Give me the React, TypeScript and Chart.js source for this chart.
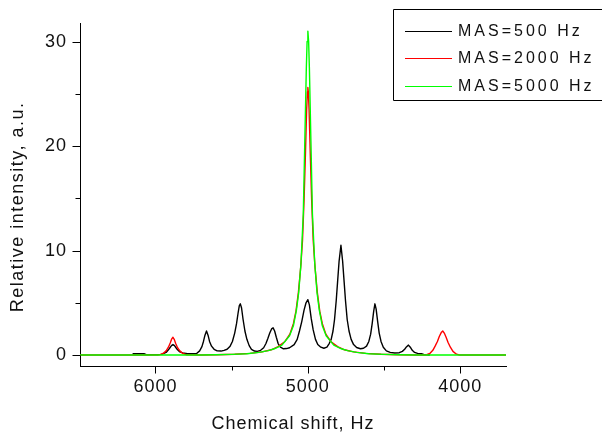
import React, { useEffect, useRef } from "react";
import { Chart, registerables } from "chart.js";

Chart.register(...registerables);

// MAS = 500 Hz: centre band with a comb of spinning sidebands
const shift500 = [
  6150, 6075, 6060, 5960, 5930, 5915, 5905, 5895, 5885, 5875, 5865, 5855, 5840, 5820, 5800, 5790,
  5730, 5710, 5695, 5685, 5675, 5665, 5655, 5645, 5632, 5615, 5595, 5570, 5550,
  5530, 5510, 5495, 5480, 5468, 5458, 5450, 5443, 5435, 5425, 5413, 5400, 5385, 5370, 5350, 5332,
  5310, 5290, 5275, 5262, 5250, 5238, 5228, 5218, 5207, 5195, 5180, 5160, 5140,
  5120, 5090, 5070, 5055, 5040, 5025, 5012, 5000, 4990, 4978, 4965, 4950, 4935, 4915, 4895, 4875,
  4860, 4847, 4835, 4825, 4814, 4805, 4795, 4783, 4772, 4762, 4753, 4742, 4730, 4716, 4700, 4680, 4655, 4635,
  4615, 4600, 4588, 4578, 4568, 4560, 4552, 4542, 4532, 4520, 4505, 4485, 4460, 4430, 4400,
  4380, 4365, 4352, 4340, 4328, 4315, 4300, 4280, 4255, 4240, 4200,
];
const intensity500 = [
  0.12, 0.12, 0.04, 0.06, 0.25, 0.5, 0.7, 0.9, 1.0, 0.9, 0.7, 0.5, 0.3, 0.2, 0.15, 0.12,
  0.15, 0.4, 0.8, 1.3, 1.9, 2.3, 1.9, 1.3, 0.85, 0.55, 0.4, 0.38, 0.45,
  0.55, 0.85, 1.3, 2.1, 3.0, 4.0, 4.7, 4.9, 4.5, 3.4, 2.3, 1.5, 0.9, 0.55, 0.38, 0.35,
  0.45, 0.7, 1.1, 1.6, 2.1, 2.5, 2.6, 2.3, 1.7, 1.1, 0.75, 0.6, 0.62,
  0.7, 1.0, 1.5, 2.3, 3.2, 4.3, 5.0, 5.3, 4.8, 3.5, 2.4, 1.5, 1.0, 0.75, 0.65, 0.75,
  1.1, 1.5, 2.3, 3.4, 5.2, 7.0, 9.0, 10.5, 9.0, 7.0, 5.2, 3.4, 2.3, 1.5, 1.0, 0.72, 0.6, 0.65,
  0.85, 1.3, 2.0, 3.0, 4.2, 4.9, 4.4, 3.2, 2.1, 1.3, 0.75, 0.4, 0.25, 0.2, 0.22,
  0.35, 0.55, 0.8, 0.95, 0.75, 0.45, 0.25, 0.15, 0.12, 0.05, 0,
];

// MAS = 2000 Hz: centre band and first-order sidebands
const shift2000 = [
  6495, 5985, 5975, 5950, 5930, 5915, 5903, 5893, 5885, 5877, 5867, 5855, 5840, 5820, 5795, 5700,
  5600, 5480, 5380, 5300, 5240, 5195, 5150, 5118, 5095, 5078, 5062, 5047, 5035, 5025, 5016, 5008, 5003,
  5000, 4997, 4992, 4984, 4975, 4965, 4953, 4938, 4922, 4905, 4882, 4850, 4805, 4760, 4700, 4620, 4520, 4400, 4300,
  4235, 4225, 4200, 4180, 4165, 4150, 4137, 4125, 4115, 4105, 4093, 4080, 4065, 4048, 4025, 4005, 3700,
];
const intensity2000 = [
  0, 0, 0.02, 0.15, 0.4, 0.75, 1.15, 1.55, 1.7, 1.5, 1.1, 0.7, 0.4, 0.15, 0.02, 0,
  0.03, 0.08, 0.16, 0.3, 0.5, 0.8, 1.3, 2.0, 3.0, 4.2, 6.0, 8.4, 11.0, 14.8, 19.2, 23.5, 25.2,
  25.6, 25.2, 23.5, 19.2, 14.8, 11.0, 8.4, 6.0, 4.2, 3.0, 2.0, 1.3, 0.8, 0.5, 0.3, 0.16, 0.08, 0.03, 0,
  0, 0.02, 0.15, 0.45, 0.85, 1.3, 1.8, 2.15, 2.3, 2.1, 1.7, 1.2, 0.75, 0.35, 0.08, 0, 0,
];

// MAS = 5000 Hz: a single narrowed centre band
const shift5000 = [
  6495, 5700, 5600, 5500, 5400, 5320, 5260, 5220, 5170, 5120, 5095, 5075, 5060, 5045, 5030, 5020, 5010, 5005,
  5000, 4995, 4990, 4980, 4970, 4955, 4940, 4925, 4905, 4880, 4830, 4780, 4740, 4680, 4600, 4500, 4400, 4300, 3700,
];
const intensity5000 = [
  0, 0, 0.03, 0.06, 0.12, 0.25, 0.42, 0.6, 0.95, 1.85, 2.8, 4.3, 6.0, 8.8, 13.5, 20.5, 27.5, 30.0,
  31.0, 30.0, 27.5, 20.5, 13.5, 8.8, 6.0, 4.3, 2.8, 1.85, 0.95, 0.6, 0.42, 0.25, 0.12, 0.06, 0.03, 0, 0,
];

const seriesLabels = ["MAS=500 Hz", "MAS=2000 Hz", "MAS=5000 Hz"];
const seriesColors = ["#000000", "#ff0000", "#00ff00"];

const xMajorTicks = [6000, 5000, 4000];
const xMinorTicks = [5500, 4500];
const yMajorTicks = [0, 10, 20, 30];
const yMinorTicks = [5, 15, 25];

const xTitle = "Chemical shift, Hz";
const yTitle = "Relative intensity, a.u.";

const FONT = "'Liberation Sans', Arial, Helvetica, sans-serif";
const TEXT = "#111111";

const toPoints = (xs: number[], ys: number[]) => xs.map((x, i) => ({ x, y: ys[i] }));

// Tick marks (long major / short minor), axis titles and the framed legend
const decorations = {
  id: "decorations",
  beforeDraw(chart: any) {
    chart.ctx.letterSpacing = "1px";
  },
  afterDraw(chart: any) {
    const { ctx, chartArea, scales } = chart;
    const xs = scales.x;
    const ys = scales.y;
    const crisp = (v: number) => Math.round(v) + 0.5;

    ctx.save();
    ctx.strokeStyle = "#000000";
    ctx.lineWidth = 1;
    ctx.beginPath();
    const left = chartArea.left + 0.5;
    yMajorTicks.forEach((v) => {
      const py = crisp(ys.getPixelForValue(v));
      ctx.moveTo(left - 8, py);
      ctx.lineTo(left, py);
    });
    yMinorTicks.forEach((v) => {
      const py = crisp(ys.getPixelForValue(v));
      ctx.moveTo(left - 5, py);
      ctx.lineTo(left, py);
    });
    const bottom = chartArea.bottom + 0.5;
    xMajorTicks.forEach((v) => {
      const px = crisp(xs.getPixelForValue(v));
      ctx.moveTo(px, bottom);
      ctx.lineTo(px, bottom + 7);
    });
    xMinorTicks.forEach((v) => {
      const px = crisp(xs.getPixelForValue(v));
      ctx.moveTo(px, bottom);
      ctx.lineTo(px, bottom + 4);
    });
    ctx.stroke();

    // axis titles
    ctx.fillStyle = TEXT;
    ctx.textAlign = "center";
    ctx.textBaseline = "middle";
    ctx.font = `18px ${FONT}`;
    ctx.letterSpacing = "1px";
    ctx.fillText(xTitle, (chartArea.left + chartArea.right) / 2, chartArea.bottom + 58);

    ctx.save();
    ctx.translate(18, (chartArea.top + chartArea.bottom) / 2 + 12);
    ctx.rotate(-Math.PI / 2);
    ctx.letterSpacing = "1.5px";
    ctx.fillText(yTitle, 0, 0);
    ctx.restore();

    // legend box
    const boxLeft = 393.5;
    const boxTop = 9.5;
    const boxBottom = 100.5;
    ctx.strokeStyle = "#000000";
    ctx.beginPath();
    ctx.moveTo(chart.width + 1, boxTop);
    ctx.lineTo(boxLeft, boxTop);
    ctx.lineTo(boxLeft, boxBottom);
    ctx.lineTo(chart.width + 1, boxBottom);
    ctx.stroke();

    ctx.font = `16px ${FONT}`;
    ctx.letterSpacing = "3px";
    ctx.textAlign = "left";
    chart.data.datasets.forEach((ds: any, i: number) => {
      const rowY = 30.5 + i * 27.5;
      ctx.strokeStyle = ds.borderColor;
      ctx.beginPath();
      ctx.moveTo(405, Math.round(rowY) + 0.5);
      ctx.lineTo(452, Math.round(rowY) + 0.5);
      ctx.stroke();
      ctx.fillStyle = TEXT;
      ctx.fillText(ds.label, 458, rowY + 1);
    });
    ctx.restore();
  },
};

export default function App() {
  const canvasRef = useRef<HTMLCanvasElement | null>(null);

  useEffect(() => {
    const canvas = canvasRef.current;
    if (!canvas) return;

    const xSeries = [shift500, shift2000, shift5000];
    const ySeries = [intensity500, intensity2000, intensity5000];

    const chart = new Chart(canvas, {
      type: "line",
      data: {
        datasets: seriesLabels.map((label, i) => ({
          label,
          data: toPoints(xSeries[i], ySeries[i]),
          borderColor: seriesColors[i],
          backgroundColor: seriesColors[i],
          borderWidth: 1.4,
          borderJoinStyle: "round" as const,
          pointRadius: 0,
          pointHoverRadius: 0,
          tension: 0,
          fill: false,
          // later series sit on top of earlier ones
          order: seriesLabels.length - i,
        })),
      },
      options: {
        animation: false,
        responsive: false,
        maintainAspectRatio: false,
        devicePixelRatio: 1,
        events: [],
        layout: { padding: { left: 0, top: 21, right: 96, bottom: 0 } },
        plugins: {
          legend: { display: false },
          tooltip: { enabled: false },
          title: { display: false },
        },
        scales: {
          x: {
            type: "linear",
            reverse: true,
            min: 3700,
            max: 6495,
            afterFit: (s: any) => {
              s.height = 69;
            },
            afterBuildTicks: (s: any) => {
              s.ticks = xMajorTicks.map((value) => ({ value }));
            },
            grid: { display: false, drawTicks: false },
            border: { display: true, color: "#000000", width: 1 },
            ticks: {
              autoSkip: false,
              maxRotation: 0,
              padding: 10,
              color: TEXT,
              font: { family: FONT, size: 18 },
              callback: (v: any) => String(v),
            },
          },
          y: {
            type: "linear",
            min: -1.05,
            max: 31.7,
            afterFit: (s: any) => {
              s.width = 80;
            },
            afterBuildTicks: (s: any) => {
              s.ticks = yMajorTicks.map((value) => ({ value }));
            },
            grid: { display: false, drawTicks: false },
            border: { display: true, color: "#000000", width: 1 },
            ticks: {
              autoSkip: false,
              padding: 13,
              color: TEXT,
              font: { family: FONT, size: 18 },
              callback: (v: any) => String(v),
            },
          },
        },
      },
      plugins: [decorations],
    });

    return () => chart.destroy();
  }, []);

  return (
    <div style={{ position: "absolute", left: 0, top: 0, width: 602, height: 435, background: "#ffffff" }}>
      <canvas ref={canvasRef} width={602} height={435} style={{ display: "block" }} />
    </div>
  );
}
